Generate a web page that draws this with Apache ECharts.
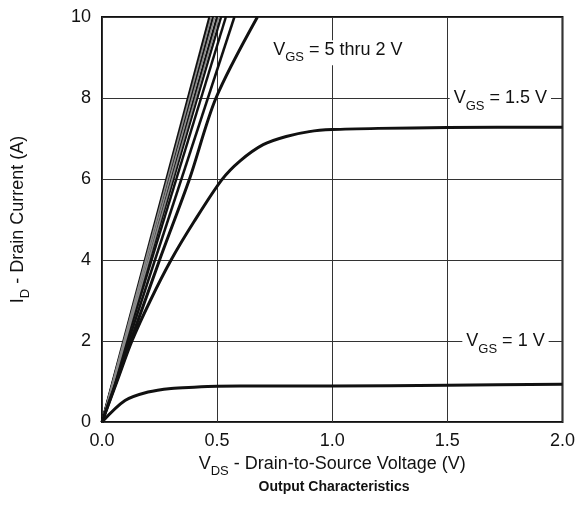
<!DOCTYPE html>
<html>
<head>
<meta charset="utf-8">
<script src="https://cdn.jsdelivr.net/npm/echarts@6/dist/echarts.min.js"></script>
<style>
  html, body { margin: 0; padding: 0; background: #fff; }
  #chart { width: 578px; height: 519px; }
</style>
</head>
<body>
<div id="chart"></div>
<script>
// VGS = 1 V curve
const vds1V = [0, 0.1, 0.2, 0.3, 0.4, 0.5, 0.7, 1.0, 1.5, 2.0];
const id1V = [0, 0.53, 0.74, 0.83, 0.86, 0.88, 0.89, 0.89, 0.91, 0.93];

// VGS = 1.5 V curve
const vds15V = [0, 0.065, 0.13, 0.21, 0.3, 0.4, 0.52, 0.6, 0.7, 0.8, 0.9, 1.0, 1.2, 1.5, 2.0];
const id15V = [0, 1.0, 2.0, 3.0, 4.0, 4.95, 5.98, 6.45, 6.85, 7.05, 7.17, 7.22, 7.25, 7.27, 7.28];

// VGS = 2 V curve (rightmost of the steep group)
const vds2V = [0, 0.25, 0.38, 0.495, 0.675];
const id2V = [0, 4, 6, 8, 10];

// steep group, VGS = 5 thru 2.5 V: VDS where each line reaches 10 A
const steepVds = [0.467, 0.474, 0.482, 0.49, 0.5, 0.508, 0.517, 0.538, 0.575];
const steepGray = [false, true, false, true, false, true, false, false, false];

const xTicks = ['0.0', '0.5', '1.0', '1.5', '2.0'];

const FONT = 'Liberation Sans, Arial, Helvetica, sans-serif';
const pairs = (xs, ys) => xs.map((x, i) => [x, ys[i]]);

const chart = echarts.init(document.getElementById('chart'));

const series = [];
steepVds.forEach((v, i) => {
  series.push({
    type: 'line',
    data: [[0, 0], [v, 10]],
    symbol: 'none',
    lineStyle: steepGray[i]
      ? { color: '#8a8a8a', width: 1.6 }
      : { color: '#111', width: 2.5 },
    z: steepGray[i] ? 3 : 2
  });
});

series.push({
  type: 'line',
  data: pairs(vds2V, id2V),
  symbol: 'none',
  smooth: 0.3,
  lineStyle: { color: '#111', width: 3 }
});
series.push({
  type: 'line',
  data: pairs(vds15V, id15V),
  symbol: 'none',
  smooth: 0.3,
  lineStyle: { color: '#111', width: 3 }
});
series.push({
  type: 'line',
  data: pairs(vds1V, id1V),
  symbol: 'none',
  smooth: 0.3,
  lineStyle: { color: '#111', width: 3 }
});

const subRich = (big, small) => ({
  n: { fontSize: big, fontFamily: FONT, color: '#111', verticalAlign: 'top', lineHeight: big },
  s: { fontSize: small, fontFamily: FONT, color: '#111', verticalAlign: 'bottom', lineHeight: big + 5 }
});

series.push({
  type: 'scatter',
  symbolSize: 0,
  silent: true,
  z: 10,
  itemStyle: { opacity: 1 },
  data: [
    { value: [0.726, 9.19], text: '{n|V}{s|GS}{n| = 5 thru 2 V}' },
    { value: [1.51, 8.0], text: '{n|V}{s|GS}{n| = 1.5 V}' },
    { value: [1.565, 2.0], text: '{n|V}{s|GS}{n| = 1 V}' }
  ],
  label: {
    show: true,
    position: 'right',
    distance: 0,
    offset: [0, 3],
    color: '#111',
    opacity: 1,
    formatter: p => p.data.text,
    backgroundColor: '#fff',
    padding: [1, 4, 1, 4],
    rich: subRich(18, 13)
  }
});

chart.setOption({
  animation: false,
  backgroundColor: '#fff',
  grid: {
    left: 102, right: 13, top: 17, bottom: 97,
    show: true, borderColor: '#111', borderWidth: 2, backgroundColor: 'transparent'
  },
  xAxis: {
    type: 'value',
    min: 0, max: 2, interval: 0.5,
    name: '{n|V}{s|DS}{n| - Drain-to-Source Voltage (V)}',
    nameLocation: 'middle',
    nameGap: 32,
    nameTextStyle: { fontSize: 18, fontFamily: FONT, color: '#111', rich: subRich(18, 13) },
    axisLine: { show: false },
    axisTick: { show: false },
    axisLabel: {
      margin: 10, fontSize: 18, fontFamily: FONT, color: '#111',
      formatter: v => xTicks[Math.round(v / 0.5)]
    },
    splitLine: { show: true, lineStyle: { color: '#333', width: 1 } }
  },
  yAxis: {
    type: 'value',
    min: 0, max: 10, interval: 2,
    name: '{n|I}{s|D}{n| - Drain Current (A)}',
    nameLocation: 'middle',
    nameGap: 70,
    nameTextStyle: { fontSize: 18, fontFamily: FONT, color: '#111', rich: subRich(18, 13) },
    axisLine: { show: false },
    axisTick: { show: false },
    axisLabel: { margin: 11, fontSize: 18, fontFamily: FONT, color: '#111' },
    splitLine: { show: true, lineStyle: { color: '#333', width: 1 } }
  },
  graphic: [{
    type: 'text',
    x: 334, y: 480,
    style: {
      text: 'Output Characteristics',
      fontSize: 14, fontWeight: 'bold', fontFamily: FONT,
      fill: '#111', align: 'center', verticalAlign: 'top'
    }
  }],
  series: series
});
</script>
</body>
</html>
